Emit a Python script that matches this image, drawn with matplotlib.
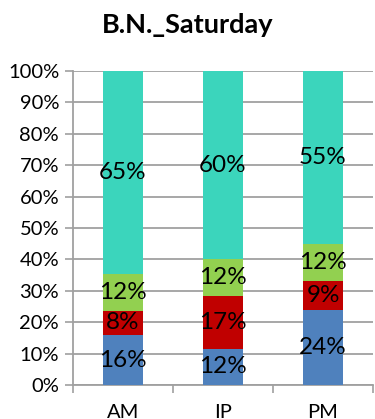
import matplotlib
matplotlib.use("Agg")
import matplotlib.pyplot as plt
import numpy as np

categories = ["AM", "IP", "PM"]
blue_vals = [15.9, 11.6, 23.9]
red_vals = [7.7, 16.9, 9.2]
green_vals = [11.7, 11.6, 11.8]
teal_vals = [64.7, 59.9, 55.1]
series = [blue_vals, red_vals, green_vals, teal_vals]
colors = ["#4F81BD", "#C00000", "#92D050", "#3BD5BC"]
title = "B.N._Saturday"
yticks = list(range(0, 101, 10))

plt.rcParams['font.family'] = ['Lato', 'DejaVu Sans']

fig = plt.figure(figsize=(3.75, 4.19), dpi=100)
ax = fig.add_axes([73/375, 1-385/419, 300/375, 314/419])

x = np.arange(len(categories))
bottom = np.zeros(len(categories))
for vals, c in zip(series, colors):
    v = np.array(vals, dtype=float)
    ax.bar(x, v, bottom=bottom, width=0.4, color=c, zorder=3)
    for xi, b, h in zip(x, bottom, v):
        ax.text(xi, b + h/2, f"{int(round(h))}%", ha="center", va="center",
                fontsize=17.5, color="black", zorder=4)
    bottom += v

ax.set_xlim(-0.5, 2.5)
ax.set_ylim(0, 100)
ax.set_yticks(yticks)
ax.set_yticklabels([f"{t}%" for t in yticks], fontsize=14.5)
ax.set_xticks(x)
ax.set_xticklabels(categories, fontsize=14.5)
ax.tick_params(axis='x', which='major', length=0, pad=14)
ax.set_xticks([-0.5, 0.5, 1.5, 2.5], minor=True)
ax.tick_params(axis='x', which='minor', length=6, color="#A0A0A0", width=1.2)
ax.tick_params(axis='y', length=6, color="#A0A0A0", width=1.2, pad=4)
ax.grid(axis='y', color="#A0A0A0", linewidth=1.3, zorder=0)
ax.set_axisbelow(True)
for s in ["top", "right"]:
    ax.spines[s].set_visible(False)
for s in ["left", "bottom"]:
    ax.spines[s].set_color("#A0A0A0")
    ax.spines[s].set_linewidth(1.3)

fig.text(188/375, 1-25/419, title, ha="center", va="center", fontsize=19.5, fontweight="bold")

fig.savefig("out.png", dpi=100)
